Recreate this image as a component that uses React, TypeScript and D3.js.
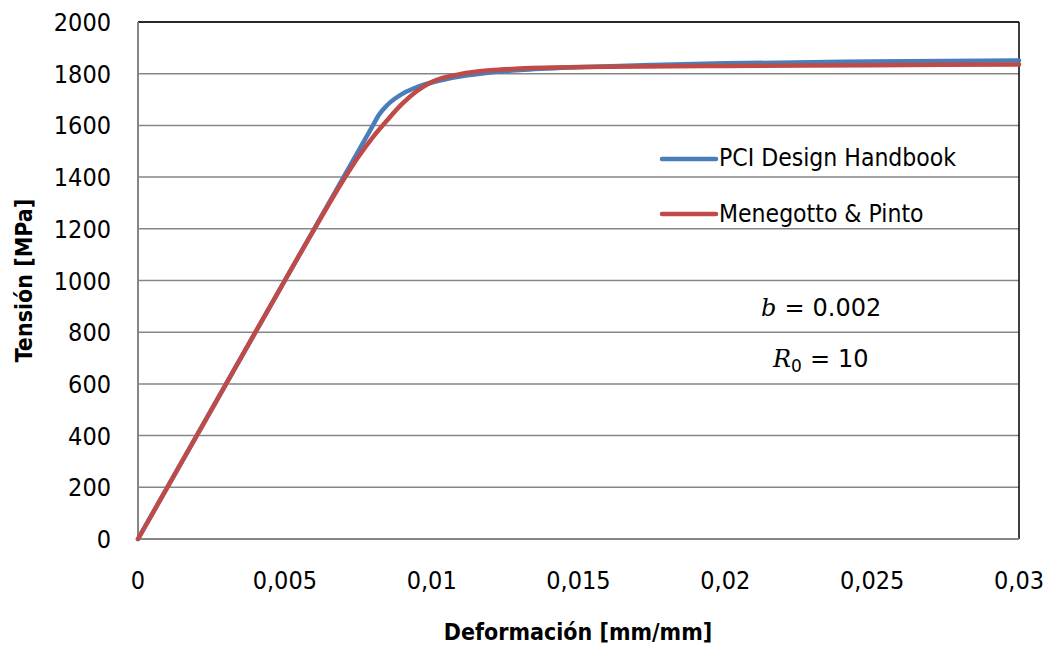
import React from "react";
import * as d3 from "d3";

const pciStrain = [0, 0.002, 0.004, 0.006, 0.008, 0.0082, 0.0085, 0.009, 0.0095, 0.01, 0.011, 0.012, 0.013, 0.015, 0.0175, 0.02, 0.025, 0.03];
const pciStress = [0, 400, 800, 1200, 1600, 1640, 1680, 1722, 1748, 1766, 1790, 1805, 1814, 1825, 1834, 1840, 1847, 1851];

const mpStrain = [0, 0.002, 0.004, 0.005, 0.006, 0.007, 0.0075, 0.008, 0.0085, 0.009, 0.0095, 0.01, 0.011, 0.012, 0.013, 0.015, 0.02, 0.025, 0.03];
const mpStress = [0, 400, 800, 1000, 1198, 1390, 1478, 1555, 1622, 1684, 1733, 1768, 1799, 1813, 1820, 1826, 1830, 1833, 1836];

const xTicks = [0, 0.005, 0.01, 0.015, 0.02, 0.025, 0.03];
const xTickLabels = ["0", "0,005", "0,01", "0,015", "0,02", "0,025", "0,03"];
const yTicks = [0, 200, 400, 600, 800, 1000, 1200, 1400, 1600, 1800, 2000];

const seriesNames = ["PCI Design Handbook", "Menegotto & Pinto"];
const seriesColors = ["#4a7ebb", "#be4b48"];

const W = 1047;
const H = 648;
const left = 138;
const right = 1019;
const top = 22;
const bottom = 539;
const FONT = "'DejaVu Sans Condensed', 'DejaVu Sans', sans-serif";

export default function App() {
  const x = d3.scaleLinear().domain([0, 0.03]).range([left, right]);
  const y = d3.scaleLinear().domain([0, 2000]).range([bottom, top]);
  const line = d3
    .line<[number, number]>()
    .x((d) => x(d[0]))
    .y((d) => y(d[1]))
    .curve(d3.curveMonotoneX);

  const pci: [number, number][] = pciStrain.map((s, i) => [s, pciStress[i]]);
  const mp: [number, number][] = mpStrain.map((s, i) => [s, mpStress[i]]);
  const series = [pci, mp];

  return (
    <svg
      width={W}
      height={H}
      style={{ position: "absolute", left: 0, top: 0, background: "#fff" }}
      fontFamily={FONT}
    >
      <rect x={0} y={0} width={W} height={H} fill="#fff" />
      {yTicks.map((t) => (
        <line key={"g" + t} x1={left} x2={right} y1={y(t)} y2={y(t)} stroke="#868686" strokeWidth={1.5} />
      ))}
      <line x1={left} x2={right} y1={top} y2={top} stroke="#000" strokeWidth={1.5} />
      <line x1={right} x2={right} y1={top} y2={bottom} stroke="#000" strokeWidth={1.5} />
      <line x1={left} x2={left} y1={top} y2={bottom} stroke="#868686" strokeWidth={2} />
      <line x1={left} x2={right} y1={bottom} y2={bottom} stroke="#868686" strokeWidth={2} />

      {yTicks.map((t) => (
        <text key={"yl" + t} x={111} y={y(t)} dy="0.36em" textAnchor="end" fontSize={25} fill="#000">
          {t}
        </text>
      ))}
      {xTicks.map((t, i) => (
        <text key={"xl" + t} x={x(t)} y={589} textAnchor="middle" fontSize={25} fill="#000">
          {xTickLabels[i]}
        </text>
      ))}

      {series.map((s, i) => (
        <path key={"s" + i} d={line(s) || ""} fill="none" stroke={seriesColors[i]} strokeWidth={4.5} strokeLinejoin="round" strokeLinecap="round" />
      ))}

      {seriesNames.map((n, i) => (
        <g key={"lg" + i}>
          <line x1={662} x2={716} y1={159 + i * 55} y2={159 + i * 55} stroke={seriesColors[i]} strokeWidth={4.5} strokeLinecap="round" />
          <text x={719} y={166 + i * 55.5} fontSize={24.5} fill="#000">
            {n}
          </text>
        </g>
      ))}

      <text x={761} y={316} fontSize={24} fill="#000">
        <tspan fontFamily="'DejaVu Serif', serif" fontStyle="italic">b</tspan>
        <tspan fontFamily="'DejaVu Sans', sans-serif" dx={8}>=</tspan>
        <tspan fontFamily="'DejaVu Sans', sans-serif" dx={8}>0.002</tspan>
      </text>
      <text x={773} y={367} fontSize={24} fill="#000">
        <tspan fontFamily="'DejaVu Serif', serif" fontStyle="italic">R</tspan>
        <tspan fontFamily="'DejaVu Sans', sans-serif" fontSize={17} dy={5}>0</tspan>
        <tspan fontFamily="'DejaVu Sans', sans-serif" dx={8} dy={-5}>=</tspan>
        <tspan fontFamily="'DejaVu Sans', sans-serif" dx={8}>10</tspan>
      </text>

      <text x={578} y={640} textAnchor="middle" fontSize={23} fontWeight="bold" fill="#000">
        Deformación [mm/mm]
      </text>
      <text
        transform={`translate(32, ${(top + bottom) / 2}) rotate(-90)`}
        textAnchor="middle"
        fontSize={23}
        fontWeight="bold"
        fill="#000"
      >
        Tensión [MPa]
      </text>
    </svg>
  );
}
